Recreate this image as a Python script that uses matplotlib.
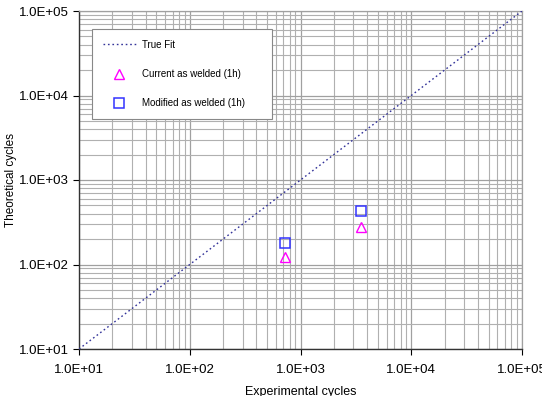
import matplotlib
matplotlib.use("Agg")
import matplotlib.pyplot as plt
import numpy as np
from matplotlib.ticker import LogLocator, FuncFormatter, NullFormatter

plt.rcParams["font.family"] = ["Liberation Sans", "DejaVu Sans"]

# данные
fit_x = [1e1, 1e5]
fit_y = [1e1, 1e5]
current_x = [724, 3520]
current_y = [123, 278]
modified_x = [724, 3520]
modified_y = [180, 430]

fig = plt.figure(figsize=(5.42, 3.96), dpi=100)
ax = fig.add_axes([79 / 542, 1 - 349 / 396, 443 / 542, 338 / 396])

ax.plot(fit_x, fit_y, linestyle=(0, (1.2, 2.0)), color="#333399", lw=1.0,
        label="True Fit", zorder=3)
ax.plot(current_x, current_y, linestyle="none", marker="^", ms=6.5,
        mfc="none", mec="#FF00FF", mew=1.0, label="Current as welded (1h)", zorder=4)
ax.plot(modified_x, modified_y, linestyle="none", marker="s", ms=6.5,
        mfc="none", mec="#3333FF", mew=1.1, label="Modified as welded (1h)", zorder=4)

ax.set_xscale("log")
ax.set_yscale("log")
ax.set_xlim(1e1, 1e5)
ax.set_ylim(1e1, 1e5)

fmt = FuncFormatter(lambda v, p: "%.1fE+%02d" % (v / 10 ** np.floor(np.log10(v)), np.floor(np.log10(v))))
ax.xaxis.set_major_formatter(fmt)
ax.yaxis.set_major_formatter(fmt)
ax.xaxis.set_minor_locator(LogLocator(base=10, subs=np.arange(2, 10)))
ax.yaxis.set_minor_locator(LogLocator(base=10, subs=np.arange(2, 10)))
ax.xaxis.set_minor_formatter(NullFormatter())
ax.yaxis.set_minor_formatter(NullFormatter())

ax.grid(True, which="major", color="#A0A0A0", lw=0.9)
ax.grid(True, which="minor", color="#B0B0B0", lw=0.8)
ax.set_axisbelow(True)

for s in ["top", "right"]:
    ax.spines[s].set_color("#A0A0A0")
    ax.spines[s].set_linewidth(0.9)
for s in ["left", "bottom"]:
    ax.spines[s].set_color("#333333")
    ax.spines[s].set_linewidth(1.0)

ax.tick_params(which="major", direction="out", length=4, width=0.8, labelsize=9.5)
ax.tick_params(axis="x", which="major", pad=7)
ax.tick_params(axis="y", which="major", pad=3)
ax.tick_params(which="minor", length=0)

ax.set_xlabel("Experimental cycles", fontsize=9, labelpad=7)
ax.set_ylabel("Theoretical cycles", fontsize=8.5, labelpad=1.5)

leg = ax.legend(loc="upper left", bbox_to_anchor=(0.029, 0.683, 0.407, 0.264),
                mode="expand", fontsize=7,
                frameon=True, fancybox=False, edgecolor="#888888", framealpha=1,
                labelspacing=2.0, handlelength=3.4, handletextpad=0.7,
                borderpad=1.1, borderaxespad=0)
leg.get_frame().set_linewidth(0.8)

fig.savefig("out.png", dpi=100)
